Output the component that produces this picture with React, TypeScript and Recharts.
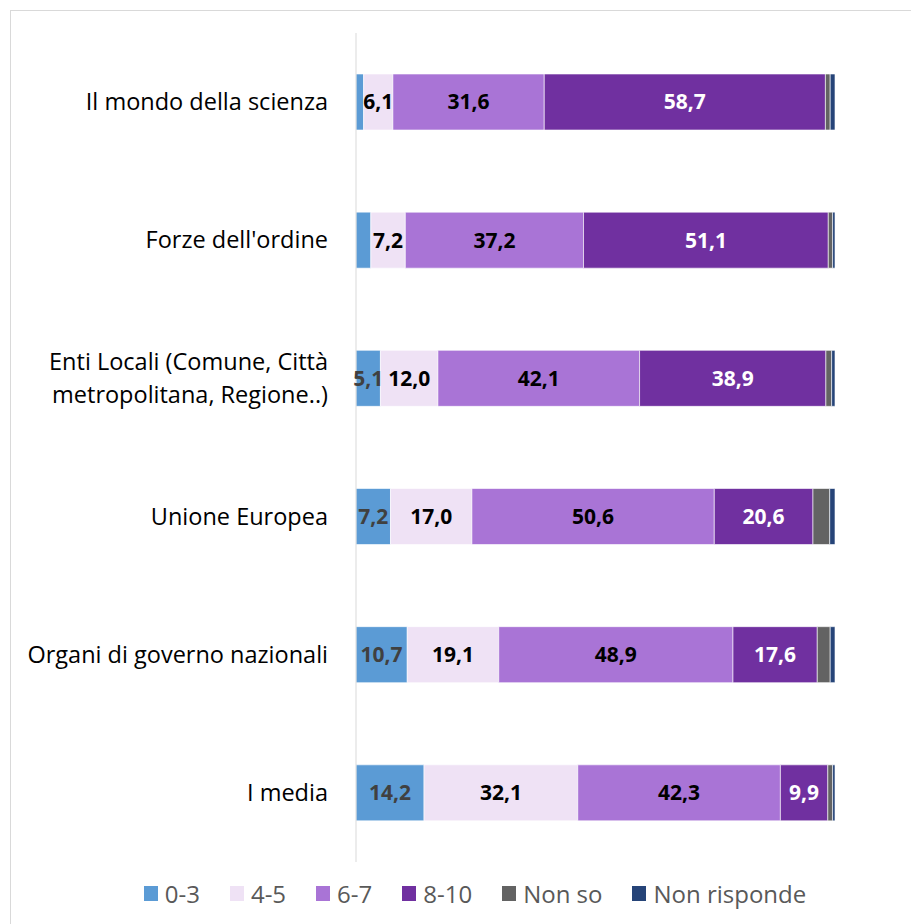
import React from 'react';
import { BarChart, Bar, XAxis, YAxis, Legend, LabelList } from 'recharts';

const categories = [
  'Il mondo della scienza',
  "Forze dell'ordine",
  'Enti Locali (Comune, Città metropolitana, Regione..)',
  'Unione Europea',
  'Organi di governo nazionali',
  'I media',
];

const v03 = [1.6, 3.1, 5.1, 7.2, 10.7, 14.2];
const v45 = [6.1, 7.2, 12.0, 17.0, 19.1, 32.1];
const v67 = [31.6, 37.2, 42.1, 50.6, 48.9, 42.3];
const v810 = [58.7, 51.1, 38.9, 20.6, 17.6, 9.9];
const nonSo = [1.0, 0.9, 1.2, 3.5, 2.7, 1.0];
const nonRisponde = [1.0, 0.5, 0.7, 1.1, 1.0, 0.5];

const series = [
  { key: 'r03', name: '0-3', color: '#5B9BD5', label: '#404040' },
  { key: 'r45', name: '4-5', color: '#EFE2F5', label: '#000000' },
  { key: 'r67', name: '6-7', color: '#A974D6', label: '#000000' },
  { key: 'r810', name: '8-10', color: '#7030A0', label: '#FFFFFF' },
  { key: 'nonSo', name: 'Non so', color: '#636363', label: null },
  { key: 'nonRisp', name: 'Non risponde', color: '#264478', label: null },
];

const data = categories.map((name, i) => ({
  name,
  r03: v03[i],
  r45: v45[i],
  r67: v67[i],
  r810: v810[i],
  nonSo: nonSo[i],
  nonRisp: nonRisponde[i],
}));

const FONT = '"Open Sans", "Noto Sans", sans-serif';

// simple word wrap for the long category name
const wrap = (s: string, max: number) => {
  const words = s.split(' ');
  const lines: string[] = [];
  let cur = '';
  words.forEach((w) => {
    const next = cur ? cur + ' ' + w : w;
    if (next.length > max && cur) {
      lines.push(cur);
      cur = w;
    } else cur = next;
  });
  if (cur) lines.push(cur);
  return lines;
};

const CategoryTick = (props: any) => {
  const { x, y, payload } = props;
  const lines = wrap(payload.value, 28);
  const step = 33;
  const start = -((lines.length - 1) * step) / 2;
  return (
    <text x={x} y={y} textAnchor="end" fill="#000" fontSize={23.5} fontFamily={FONT}>
      {lines.map((l, i) => (
        <tspan key={i} x={x} y={y + start + i * step} dy="0.35em">
          {l}
        </tspan>
      ))}
    </text>
  );
};

const makeLabel = (color: string) => (props: any) => {
  const { x, y, width, height, value } = props;
  if (value < 4) return null;
  return (
    <text
      x={x + width / 2}
      y={y + height / 2}
      dy="0.35em"
      textAnchor="middle"
      fill={color}
      fontSize={21}
      fontWeight="bold"
      fontFamily={FONT}
    >
      {value.toFixed(1).replace('.', ',')}
    </text>
  );
};

const LegendContent = () => (
  <div
    style={{
      display: 'flex',
      justifyContent: 'center',
      alignItems: 'center',
      gap: 30,
      paddingTop: 16,
      height: 30,
      paddingLeft: 104,
      fontFamily: FONT,
      fontSize: 24,
      color: '#595959',
    }}
  >
    {series.map((s) => (
      <div key={s.key} style={{ display: 'flex', alignItems: 'center', gap: 7 }}>
        <span style={{ width: 14, height: 15, background: s.color, display: 'inline-block' }} />
        <span>{s.name}</span>
      </div>
    ))}
  </div>
);

export default function App() {
  return (
    <div
      style={{
        marginLeft: 2,
        marginTop: 2,
        border: '1px solid #d9d9d9',
        width: 909,
        height: 914,
        background: '#fff',
      }}
    >
      <BarChart
        width={909}
        height={912}
        data={data}
        layout="vertical"
        margin={{ top: 22, right: 85, bottom: 15, left: 0 }}
        barSize={56}
      >
        <XAxis type="number" domain={[0, 100]} hide />
        <YAxis
          type="category"
          dataKey="name"
          width={345}
          axisLine={{ stroke: '#d9d9d9' }}
          tickLine={false}
          tickSize={0}
          tickMargin={28}
          tick={<CategoryTick />}
          interval={0}
        />
        <Legend verticalAlign="bottom" content={<LegendContent />} />
        {series.map((s) => (
          <Bar
            key={s.key}
            dataKey={s.key}
            name={s.name}
            stackId="a"
            fill={s.color}
            stroke="#ffffff"
            strokeWidth={0.6}
            isAnimationActive={false}
          >
            {s.label && <LabelList dataKey={s.key} content={makeLabel(s.label)} />}
          </Bar>
        ))}
      </BarChart>
    </div>
  );
}
